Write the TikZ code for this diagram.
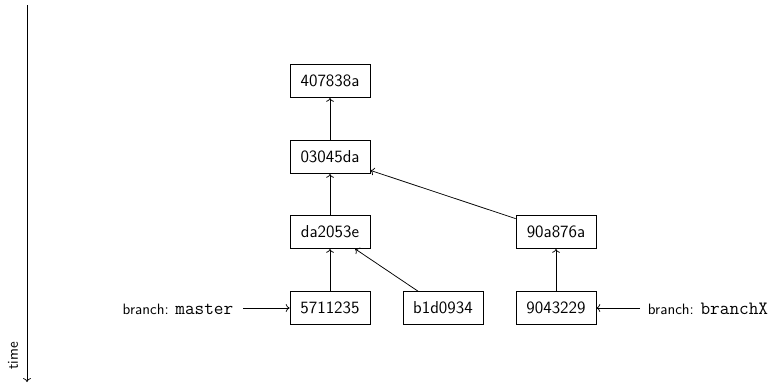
\documentclass[tikz,border=0pt]{standalone}
\usetikzlibrary{arrows.meta}
\newcommand{\branchname}[1]{{\fontsize{12.5}{15}\selectfont\ttfamily #1}}
\begin{document}
\begin{tikzpicture}[x=0.6667pt,y=-0.6667pt,
  font=\sffamily,
  line width=0.5pt,
  >={To[length=2.6pt,width=5.2pt]},
  commit/.style={draw,minimum width=53.3pt,minimum height=22pt,inner sep=2pt,
    font=\fontsize{11.5}{14}\selectfont\sffamily},
  label/.style={inner sep=1pt},
  link/.style={->}]
\useasboundingbox (0,0) rectangle (770,384);
% time axis
\coordinate (tstart) at (27,5);
\coordinate (tend) at (27,382);
\draw[link] (tstart) -- (tend);
\node[rotate=90] (time) at (13,356) {time};
% commits
\node[commit] (c1) at (330,81) {407838a};
\node[commit] (c2) at (330,157) {03045da};
\node[commit] (c3) at (330,232) {da2053e};
\node[commit] (c4) at (330,308) {5711235};
\node[commit] (c5) at (443,308) {b1d0934};
\node[commit] (c6) at (556,232) {90a876a};
\node[commit] (c7) at (556,308) {9043229};
% branch labels
\node[label] (master) at (178,309) {branch: \branchname{master}};
\node[label] (bx) at (708,309) {branch: \branchname{branchX}};
% parent links
\draw[link] (c2) -- (c1);
\draw[link] (c3) -- (c2);
\draw[link] (c4) -- (c3);
\draw[link] (c5) -- (c3);
\draw[link] (c6) -- (c2);
\draw[link] (c7) -- (c6);
\coordinate (m0) at (243,308);
\coordinate (b0) at (640,308);
\draw[link] (m0) -- (c4.west);
\draw[link] (b0) -- (c7.east);
\end{tikzpicture}
\end{document}
